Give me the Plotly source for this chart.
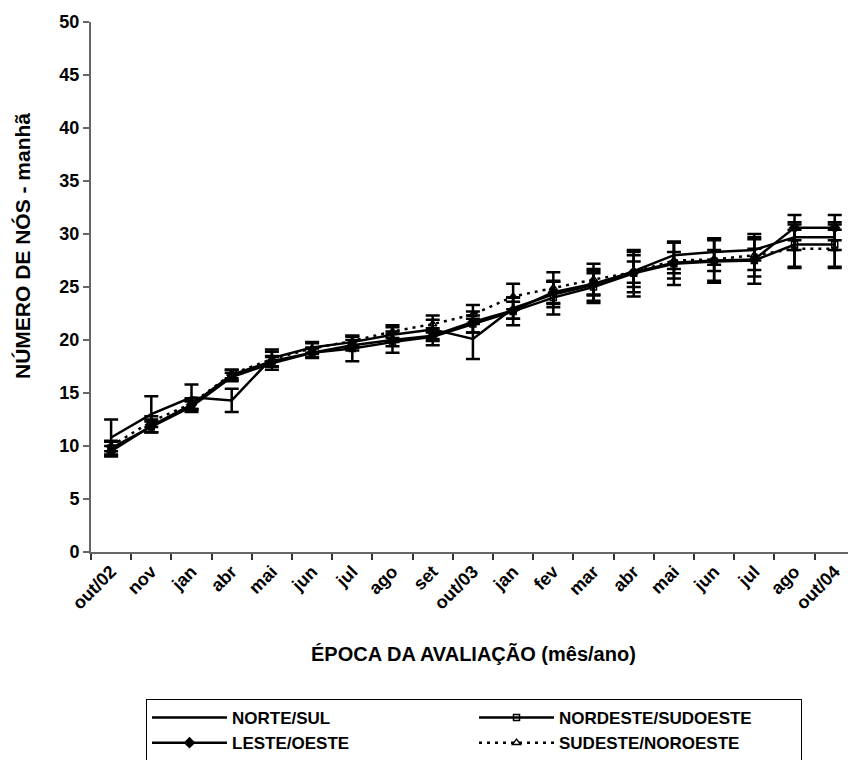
import plotly.graph_objects as go

categories = ["out/02", "nov", "jan", "abr", "mai", "jun", "jul", "ago", "set", "out/03",
              "jan ", "fev", "mar", "abr ", "mai ", "jun ", "jul ", "ago ", "out/04"]
tick_labels = ["out/02", "nov", "jan", "abr", "mai", "jun", "jul", "ago", "set", "out/03",
               "jan", "fev", "mar", "abr", "mai", "jun", "jul", "ago", "out/04"]
y_ticks = [0, 5, 10, 15, 20, 25, 30, 35, 40, 45, 50]

norte_sul = [10.8, 13.0, 14.6, 14.3, 18.3, 19.3, 19.8, 20.5, 21.0, 20.1,
             23.0, 24.3, 25.2, 26.5, 28.0, 28.3, 28.5, 29.7, 29.7]
norte_sul_err = [1.7, 1.7, 1.2, 1.1, 0.8, 0.5, 0.5, 0.7, 0.9, 1.9,
                 1.0, 1.2, 1.5, 1.5, 1.3, 1.2, 1.0, 1.2, 1.2]

nordeste_sudoeste = [9.8, 11.8, 13.7, 16.5, 17.8, 18.8, 19.2, 19.8, 20.3, 21.5,
                     22.7, 24.0, 25.0, 26.3, 27.2, 27.4, 27.5, 29.0, 29.0]
nordeste_sudoeste_err = [0.6, 0.5, 0.5, 0.4, 0.6, 0.4, 1.2, 1.0, 0.8, 0.8,
                         1.3, 1.6, 1.5, 2.2, 2.0, 2.0, 2.2, 2.1, 2.1]

leste_oeste = [9.5, 11.9, 13.9, 16.7, 18.0, 18.8, 19.5, 20.0, 20.4, 21.7,
               22.8, 24.5, 25.3, 26.4, 27.3, 27.5, 27.6, 30.6, 30.6]
leste_oeste_err = [0.5, 0.6, 0.4, 0.5, 0.5, 0.5, 0.5, 0.6, 0.5, 1.0,
                   0.8, 1.0, 1.0, 1.0, 1.0, 1.0, 1.0, 1.2, 1.2]

sudeste_noroeste = [10.0, 12.3, 14.0, 16.8, 18.2, 19.2, 19.9, 20.8, 21.5, 22.4,
                    24.1, 24.9, 25.7, 26.4, 27.5, 27.6, 28.0, 28.6, 28.6]
sudeste_noroeste_err = [0.5, 0.5, 0.5, 0.4, 0.7, 0.5, 0.5, 0.6, 0.8, 0.9,
                        1.2, 1.5, 1.5, 1.9, 1.7, 2.0, 2.0, 1.8, 1.8]

FONT = "Liberation Sans, Arial, sans-serif"

def err(a):
    return dict(type="data", array=a, visible=True, color="black", thickness=2.5, width=7)

fig = go.Figure()
fig.add_trace(go.Scatter(x=categories, y=norte_sul, name="<b>NORTE/SUL</b>", mode="lines",
                         line=dict(color="black", width=2.5), error_y=err(norte_sul_err)))
fig.add_trace(go.Scatter(x=categories, y=nordeste_sudoeste, name="<b>NORDESTE/SUDOESTE</b>",
                         mode="lines+markers", line=dict(color="black", width=2.5),
                         marker=dict(symbol="square-open", size=6, color="black",
                                     line=dict(width=1.5, color="black")),
                         error_y=err(nordeste_sudoeste_err)))
fig.add_trace(go.Scatter(x=categories, y=leste_oeste, name="<b>LESTE/OESTE</b>",
                         mode="lines+markers", line=dict(color="black", width=2.5),
                         marker=dict(symbol="diamond", size=9, color="black"),
                         error_y=err(leste_oeste_err)))
fig.add_trace(go.Scatter(x=categories, y=sudeste_noroeste, name="<b>SUDESTE/NOROESTE</b>",
                         mode="lines+markers", line=dict(color="black", width=2.5, dash="3px,5px"),
                         marker=dict(symbol="triangle-up-open", size=7, color="black",
                                     line=dict(width=1.5, color="black")),
                         error_y=err(sudeste_noroeste_err)))

fig.update_layout(
    width=848, height=760,
    margin=dict(l=91, r=0, t=22, b=208),
    plot_bgcolor="white", paper_bgcolor="white",
    font=dict(family=FONT, color="black", size=17),
    showlegend=True,
    legend=dict(orientation="h", x=146 / 848, xanchor="left", xref="container",
                y=1 - 699 / 760, yref="container", yanchor="top",
                bordercolor="black", borderwidth=1, bgcolor="white",
                font=dict(family=FONT, size=17, color="black"),
                entrywidth=237, entrywidthmode="pixels",
                traceorder="normal", itemwidth=75),
    annotations=[
        dict(text="<b>NÚMERO DE NÓS - manhã</b>", textangle=-90, showarrow=False,
             xref="paper", yref="paper", x=(22 - 91) / 757, y=(552 - 246) / 530,
             xanchor="center", yanchor="middle", font=dict(family=FONT, size=21, color="black")),
        dict(text="<b>ÉPOCA DA AVALIAÇÃO (mês/ano)</b>", showarrow=False,
             xref="paper", yref="paper", x=(473 - 91) / 757, y=-(654 - 552) / 530,
             xanchor="center", yanchor="middle", font=dict(family=FONT, size=20, color="black")),
    ],
)

fig.update_xaxes(
    type="category", range=[-0.5, 18.33],
    tickmode="array", tickvals=categories, ticktext=["<b>%s</b>" % t for t in tick_labels],
    tickangle=-45, tickfont=dict(family=FONT, size=18, color="black"),
    ticks="outside", ticklen=6, tickwidth=1.5, tickcolor="#333", tickson="boundaries",
    showline=True, linecolor="#666", linewidth=2, showgrid=False, zeroline=False,
)
fig.update_yaxes(
    range=[0, 50], tickmode="array", tickvals=y_ticks,
    ticktext=["<b>%d</b>" % v for v in y_ticks],
    tickfont=dict(family=FONT, size=18, color="black"),
    ticks="outside", ticklen=6, tickwidth=1.5, tickcolor="#666",
    showline=True, linecolor="#666", linewidth=2, showgrid=False, zeroline=False,
)

fig.write_html("out.html")
